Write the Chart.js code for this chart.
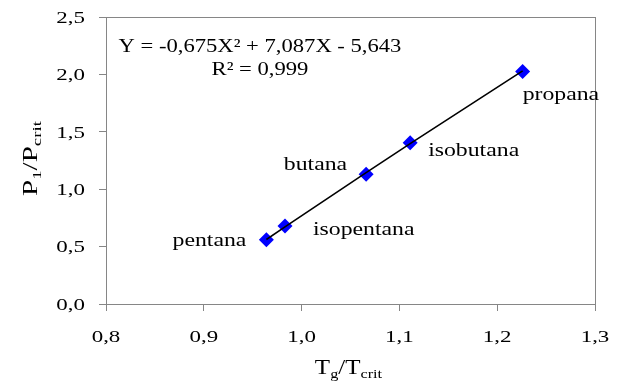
<!DOCTYPE html>
<html>
<head>
<meta charset="utf-8">
<script src="https://cdn.jsdelivr.net/npm/chart.js@4.4.1/dist/chart.umd.min.js"></script>
<style>html,body{margin:0;padding:0;background:#fff;overflow:hidden}canvas{display:block}</style>
</head>
<body>
<canvas id="c" width="625" height="385" style="width:625px;height:385px"></canvas>
<script>
// ---- data ----
const compounds = ['pentana', 'isopentana', 'butana', 'isobutana', 'propana'];
const tgRatio   = [0.964, 0.983, 1.066, 1.111, 1.226];   // Tg/Tcrit
const pRatio    = [0.56, 0.68, 1.13, 1.405, 2.025];      // P1/Pcrit
const trendCoef = [-0.675, 7.087, -5.643];               // Y = aX^2 + bX + c
const equationText = 'Y = -0,675X² + 7,087X - 5,643';
const r2Text = 'R² = 0,999';
const xMin = 0.8, xMax = 1.3, xStep = 0.1;
const yMin = 0.0, yMax = 2.5, yStep = 0.5;

// ---- styles / label placement ----
const labelPlacement = [
  {dx: -20, dy: 6,  align: 'right'},
  {dx: 28,  dy: 9,  align: 'left'},
  {dx: -19, dy: -4, align: 'right'},
  {dx: 18,  dy: 13, align: 'left'},
  {dx: 0,   dy: 28, align: 'left'}
];
const FONT = '"Liberation Serif", "Times New Roman", serif';
const GRAY = '#868686';

const trendPoints = tgRatio.map(x => ({x: x, y: trendCoef[0]*x*x + trendCoef[1]*x + trendCoef[2]}));
const dataPoints = tgRatio.map((x, i) => ({x: x, y: pRatio[i]}));

function fmt(v){ return v.toFixed(1).replace('.', ','); }

function txt(ctx, s, x, y, size, sx, align){
  ctx.save();
  ctx.translate(x, y);
  ctx.scale(sx, 1);
  ctx.font = size + 'px ' + FONT;
  ctx.textAlign = align;
  ctx.textBaseline = 'alphabetic';
  ctx.fillText(s, 0, 0);
  ctx.restore();
}
// segments drawn centered at (0,0) in current transform
function rich(ctx, segs, sx){
  ctx.save();
  ctx.scale(sx, 1);
  ctx.textAlign = 'left';
  ctx.textBaseline = 'alphabetic';
  let w = 0;
  segs.forEach(g => { ctx.font = g.s + 'px ' + FONT; g.w = ctx.measureText(g.t).width; w += g.w; });
  let cx = -w/2;
  segs.forEach(g => { ctx.font = g.s + 'px ' + FONT; ctx.fillText(g.t, cx, g.dy); cx += g.w; });
  ctx.restore();
}

const overlay = {
  id: 'overlay',
  afterDraw(chart){
    const {ctx, chartArea: a, scales: {x, y}} = chart;
    ctx.save();
    // plot frame
    ctx.strokeStyle = GRAY;
    ctx.lineWidth = 1;
    ctx.strokeRect(Math.round(a.left) + 0.5, Math.round(a.top) + 0.5,
                   Math.round(a.right - a.left), Math.round(a.bottom - a.top));
    ctx.fillStyle = '#000';
    // tick labels
    y.ticks.forEach(t => {
      txt(ctx, fmt(t.value), a.left - 21, y.getPixelForValue(t.value) + 5.7, 17, 1.35, 'right');
    });
    x.ticks.forEach(t => {
      txt(ctx, fmt(t.value), x.getPixelForValue(t.value), a.bottom + 38, 17, 1.35, 'center');
    });
    // equation
    const ex = a.left + 154;
    txt(ctx, equationText, ex, a.top + 35, 19, 1.19, 'center');
    txt(ctx, r2Text, ex, a.top + 58, 19, 1.19, 'center');
    // point labels
    const meta = chart.getDatasetMeta(1);
    meta.data.forEach((p, i) => {
      const L = labelPlacement[i];
      txt(ctx, compounds[i], p.x + L.dx, p.y + L.dy, 19, 1.25, L.align);
    });
    // x title
    ctx.save();
    ctx.translate((a.left + a.right)/2 - 2, a.bottom + 70);
    rich(ctx, [{t:'T', s:20, dy:0}, {t:'g', s:13, dy:4}, {t:'/T', s:20, dy:0}, {t:'crit', s:13, dy:4}], 1.25);
    ctx.restore();
    // y title
    ctx.save();
    ctx.translate(37, (a.top + a.bottom)/2 - 2);
    ctx.rotate(-Math.PI/2);
    rich(ctx, [{t:'P', s:20, dy:0}, {t:'1', s:13, dy:4}, {t:'/P', s:20, dy:0}, {t:'crit', s:13, dy:4}], 1.45);
    ctx.restore();
    ctx.restore();
  }
};

new Chart(document.getElementById('c'), {
  type: 'scatter',
  data: {
    datasets: [
      {
        label: 'trend',
        data: trendPoints,
        showLine: true,
        borderColor: '#000',
        borderWidth: 1.6,
        pointRadius: 0,
        fill: false,
        tension: 0
      },
      {
        label: 'data',
        data: dataPoints,
        pointStyle: 'rectRot',
        pointRadius: 7.5,
        pointBackgroundColor: '#0000FF',
        pointBorderColor: '#0000FF',
        pointBorderWidth: 0,
        showLine: false
      }
    ]
  },
  options: {
    responsive: false,
    animation: false,
    devicePixelRatio: 1,
    layout: {padding: {top: 17, right: 30, left: 0, bottom: 0}},
    plugins: {legend: {display: false}, tooltip: {enabled: false}},
    scales: {
      x: {
        type: 'linear', min: xMin, max: xMax,
        ticks: {stepSize: xStep, display: false},
        grid: {drawOnChartArea: false, drawTicks: true, tickLength: 7, color: GRAY},
        border: {display: true, color: GRAY},
        afterFit(s){ s.height = 81; }
      },
      y: {
        type: 'linear', min: yMin, max: yMax,
        ticks: {stepSize: yStep, display: false},
        grid: {drawOnChartArea: false, drawTicks: true, tickLength: 7, color: GRAY},
        border: {display: true, color: GRAY},
        afterFit(s){ s.width = 106; }
      }
    }
  },
  plugins: [overlay]
});
</script>
</body>
</html>
